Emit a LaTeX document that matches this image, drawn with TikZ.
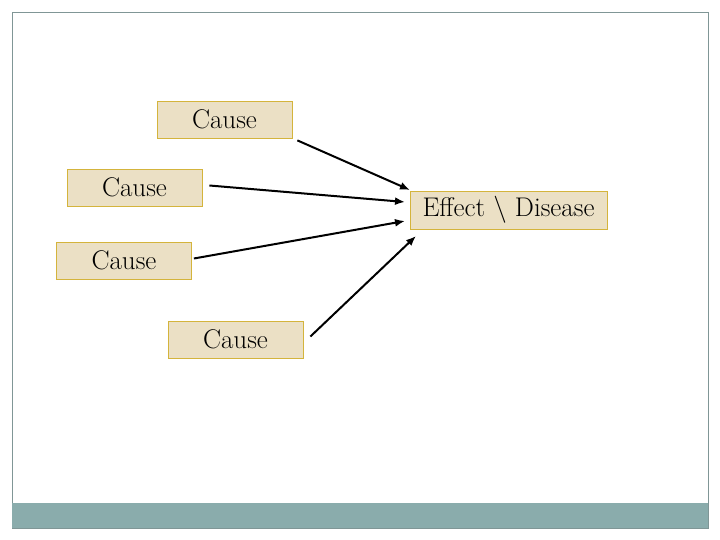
\documentclass[tikz,border=0pt]{standalone}
\usepackage{amsmath, amssymb, tikz}
\usetikzlibrary{arrows.meta, calc}
\definecolor{boxfill}{RGB}{235,224,197}
\definecolor{boxline}{RGB}{212,180,60}
\definecolor{barteal}{RGB}{138,172,172}
\definecolor{frameline}{RGB}{128,150,150}
\tikzset{
  causebox/.style={draw=boxline, fill=boxfill, line width=0.8pt, minimum width=135pt, minimum height=37pt, inner sep=0pt, font=\fontsize{27}{32}\selectfont},
  link/.style={-{Latex[length=10pt,width=8pt]}, line width=2pt}
}
\begin{document}
\begin{tikzpicture}[x=1pt, y=-1pt]
        \useasboundingbox (0,0) rectangle (720,540);
        \draw[frameline, line width=0.7pt] (12,12) rectangle (708,528);
        \fill[barteal] (12,503) rectangle (708,528);
        \node[causebox] (c1) at (224.5,119.5) {Cause};
        \node[causebox] (c2) at (134.5,187.5) {Cause};
        \node[causebox] (c3) at (124,260.5) {Cause};
        \node[causebox] (c4) at (235.5,339.5) {Cause};
        \node[causebox, minimum width=197pt, minimum height=38pt] (effect) at (508.5,210) {Effect \textbackslash\ Disease};
        \coordinate (e1) at (410,190);
        \coordinate (e2) at (405,202);
        \coordinate (e3) at (405,221);
        \coordinate (e4) at (416,236);
        \draw[link] ($(c1.south east)+(5,2)$) -- (e1);
        \draw[link] ($(c2.east)+(7,-2)$) -- (e2);
        \draw[link] ($(c3.east)+(2,-2)$) -- (e3);
        \draw[link] ($(c4.east)+(7,-3)$) -- (e4);
    \end{tikzpicture}
\end{document}
